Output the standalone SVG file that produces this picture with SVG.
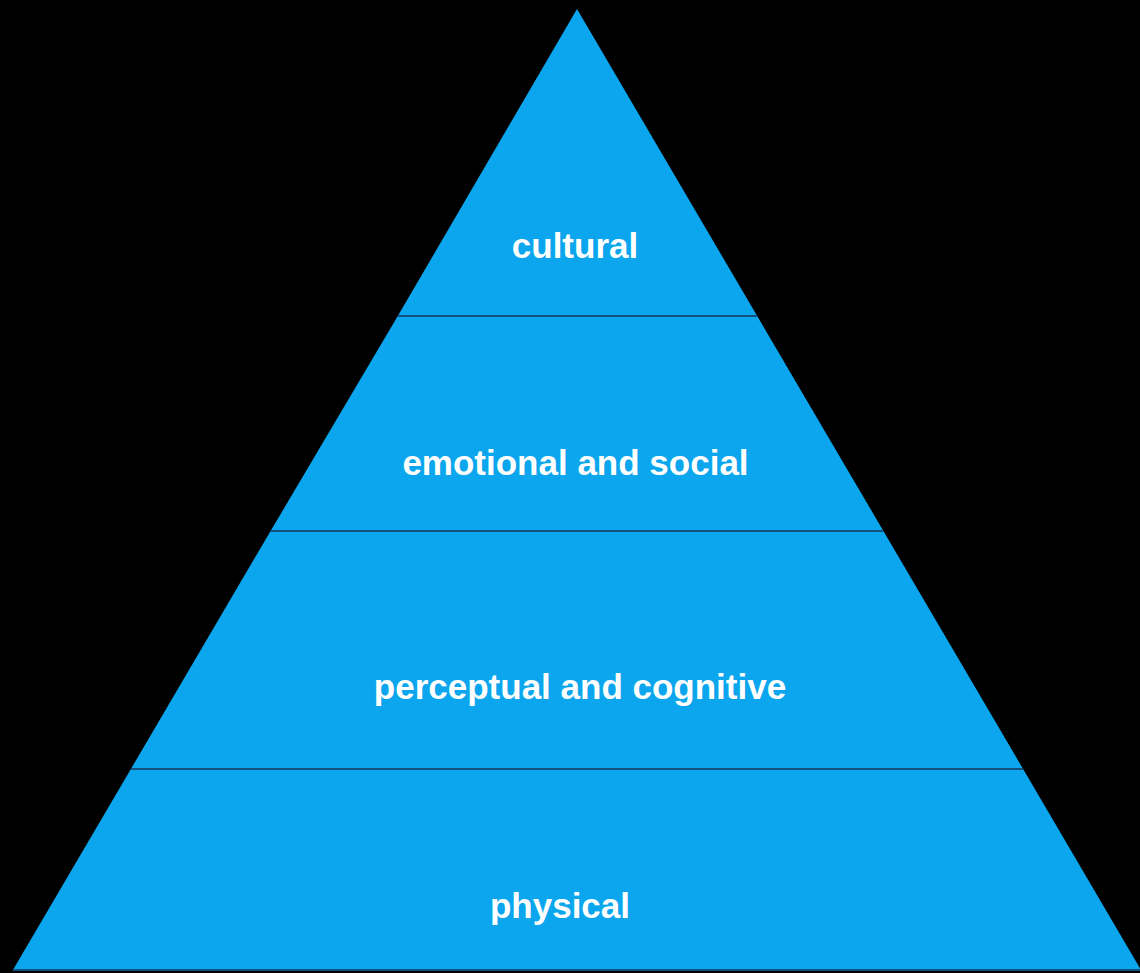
<svg xmlns="http://www.w3.org/2000/svg" width="1140" height="973" viewBox="0 0 1140 973">
<style>
.layer{fill:#0ba6ed;}
.div{stroke:#12507e;stroke-width:2;fill:none;}
.lbl{font-family:"Liberation Sans",Arial,sans-serif;font-size:35px;font-weight:bold;fill:#ffffff;text-anchor:middle;}
</style>
<rect x="0" y="0" width="1140" height="973" fill="#000000"/>
<g id="cultural">
<polygon class="layer" points="577,9 757.2,316 397.8,316"/>
<text class="lbl" x="575" y="258">cultural</text>
</g>
<g id="emotional">
<polygon class="layer" points="397.8,316 757.2,316 883.4,531 270.6,531"/>
<text class="lbl" x="575.5" y="475">emotional and social</text>
</g>
<g id="perceptual">
<polygon class="layer" points="270.6,531 883.4,531 1023.1,769 130.9,769"/>
<text class="lbl" x="580" y="699">perceptual and cognitive</text>
</g>
<g id="physical">
<polygon class="layer" points="130.9,769 1023.1,769 1141.1,970 12.9,970"/>
<text class="lbl" x="560" y="918">physical</text>
</g>
<g id="connectors">
<line class="div" x1="397.8" y1="316" x2="757.2" y2="316"/>
<line class="div" x1="270.6" y1="531" x2="883.4" y2="531"/>
<line class="div" x1="130.9" y1="769" x2="1023.1" y2="769"/>
<line class="div" x1="12.9" y1="970" x2="1140" y2="970"/>
</g>
</svg>
